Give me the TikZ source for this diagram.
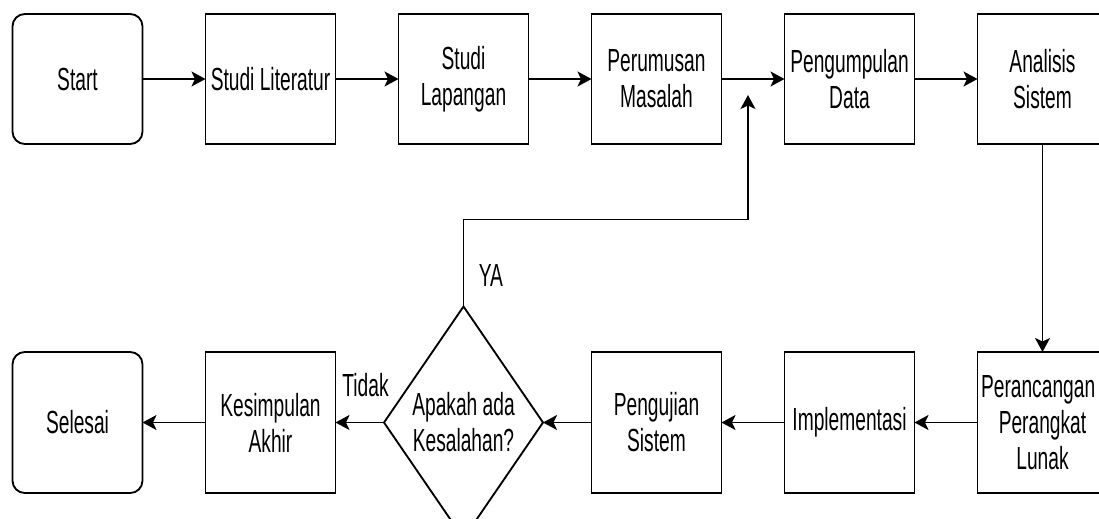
\documentclass[tikz,border=0pt]{standalone}
\usepackage{fontspec}
\setmainfont{Liberation Sans}[FakeStretch=0.6]
\usetikzlibrary{positioning, arrows.meta, shapes.geometric, calc}
\tikzset{
  % Start / Selesai
  terminal/.style={
    draw, rectangle, rounded corners=7pt, align=center,
    font=\fontsize{18.2}{20.5}\selectfont,
    minimum width=2.6cm, minimum height=2.6cm,
    inner sep=1pt, outer sep=0pt, line width=1.05pt
  },
  % Langkah proses
  proses/.style={
    draw, rectangle, align=center,
    font=\fontsize{18.2}{20.5}\selectfont,
    minimum width=2.6cm, minimum height=2.6cm,
    inner sep=1pt, outer sep=0pt, line width=1.05pt
  },
  barisBawah/.style={minimum height=2.82cm},
  % Keputusan
  keputusan/.style={
    draw, diamond, aspect=0.685, align=center,
    font=\fontsize{18.2}{20.5}\selectfont,
    minimum width=3.18cm, minimum height=4.64cm,
    inner sep=0pt, outer sep=0pt, line width=1.05pt
  },
  % Panah alur
  panah/.style={
    -{Stealth[length=2.8mm, width=3mm, inset=0.7mm]}, line width=1.05pt
  },
  teks/.style={font=\fontsize{18.2}{20.5}\selectfont, inner sep=0pt},
}

\begin{document}
\begin{tikzpicture}[node distance=1.26cm]

  \useasboundingbox (-1.55,1.58) rectangle (20.43,-8.78);

  %% ── Baris atas ──
  \node[terminal] (start) at (0,0) {Start};
  \node[proses, right=of start]        (literatur)   {Studi Literatur};
  \node[proses, right=of literatur]    (lapangan)    {Studi\\Lapangan};
  \node[proses, right=of lapangan]     (perumusan)   {Perumusan\\Masalah};
  \node[proses, right=of perumusan]    (pengumpulan) {Pengumpulan\\Data};
  \node[proses, right=of pengumpulan]  (analisis)    {Analisis\\Sistem};

  %% ── Baris bawah ──
  \node[proses, barisBawah, below=4.16cm of analisis] (perancangan) {Perancangan\hspace*{5pt}\\Perangkat\\Lunak};
  \node[proses, barisBawah, left=of perancangan]   (implementasi) {Implementasi};
  \node[proses, barisBawah, left=of implementasi]  (pengujian)    {Pengujian\\Sistem};
  \node[keputusan, left=0.97cm of pengujian]       (cek)          {Apakah ada\\Kesalahan?};
  \node[proses, barisBawah, left=0.97cm of cek]    (kesimpulan)   {Kesimpulan\\Akhir};
  \node[terminal, barisBawah, left=of kesimpulan]  (selesai)      {Selesai};

  %% ── Label ──
  \node[teks, anchor=west] (ya)    at ([xshift=0.3cm, yshift=0.62cm]cek.north) {YA};
  \node[teks, anchor=east] (tidak) at ([xshift=0.1cm, yshift=0.74cm]cek.west)  {Tidak};

  %% ── Alur ──
  \draw[panah] (start) -- (literatur);
  \draw[panah] (literatur) -- (lapangan);
  \draw[panah] (lapangan) -- (perumusan);
  \draw[panah] (perumusan) -- (pengumpulan);
  \draw[panah] (pengumpulan) -- (analisis);
  \draw[panah] (analisis) -- (perancangan);
  \draw[panah] (perancangan) -- (implementasi);
  \draw[panah] (implementasi) -- (pengujian);
  \draw[panah] (pengujian) -- (cek);
  \draw[panah] (cek) -- (kesimpulan);
  \draw[panah] (kesimpulan) -- (selesai);

  %% ── Kembali ke pengumpulan data ──
  \coordinate (balik) at ($($(perumusan.east)!0.42!(pengumpulan.west)$)+(0,-0.32)$);
  \draw[panah] (cek.north) -- ++(0,1.74) -| (balik);

\end{tikzpicture}
\end{document}
